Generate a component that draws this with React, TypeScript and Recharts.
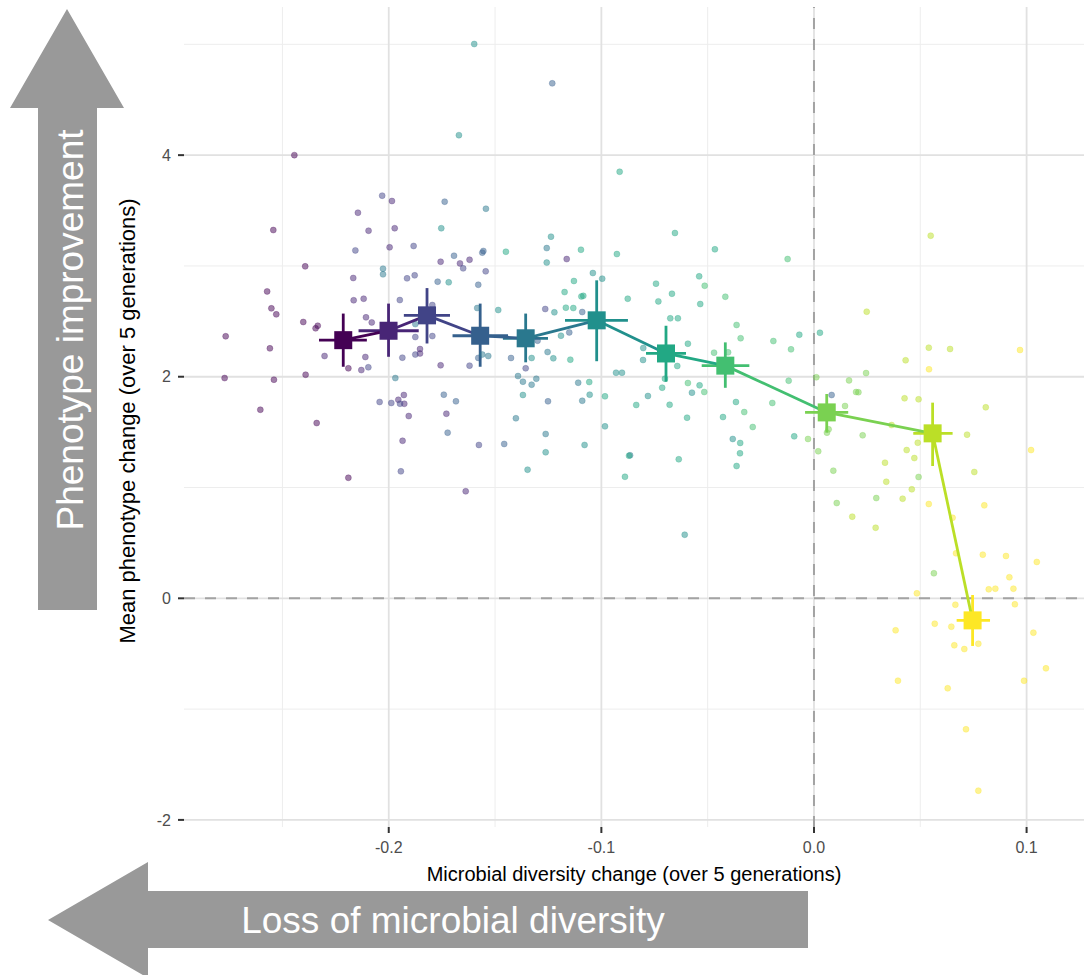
import { ScatterChart, Scatter, XAxis, YAxis, CartesianGrid, ReferenceLine, ErrorBar, Label } from "recharts";

const FONT = '"Liberation Sans", Arial, Helvetica, sans-serif';
const W = 1084;
const H = 975;

// viridis, one colour per diversity-change bin
const binColors = ["#440154", "#482576", "#414487", "#35608D", "#2A788E", "#21908C", "#22A884", "#43BF71", "#7AD151", "#BBDF27", "#FDE725"];

// bin means and their error ranges
const meanX = [-0.2214, -0.2001, -0.182, -0.157, -0.1356, -0.1022, -0.0696, -0.0417, 0.006, 0.0558, 0.0746];
const meanY = [2.33, 2.415, 2.554, 2.37, 2.347, 2.509, 2.21, 2.1, 1.678, 1.489, -0.199];
const xLow = [-0.2328, -0.2142, -0.1929, -0.17, -0.1463, -0.1171, -0.079, -0.0528, -0.0042, 0.0467, 0.0671];
const xHigh = [-0.2103, -0.1859, -0.1712, -0.1439, -0.1251, -0.0875, -0.0602, -0.0304, 0.0161, 0.0652, 0.0828];
const yLow = [2.09, 2.18, 2.3, 2.09, 2.13, 2.14, 1.955, 1.9, 1.495, 1.194, -0.43];
const yHigh = [2.57, 2.66, 2.8, 2.66, 2.57, 2.87, 2.46, 2.31, 1.844, 1.766, 0.03];

const xTicks = [-0.2, -0.1, 0, 0.1];
const yTicks = [-2, 0, 2, 4];
const xMinor = [-0.25, -0.15, -0.05, 0.05];
const yMinor = [-1, 1, 3, 5];

// individual lines, [diversity change, phenotype change]
const bin1: [number, number][] = [
  [-0.2444, 4.0], [-0.2543, 3.324], [-0.2393, 2.996], [-0.2572, 2.77], [-0.2552, 2.617], [-0.2529, 2.563],
  [-0.2402, 2.494], [-0.2334, 2.46], [-0.2344, 2.437], [-0.2767, 2.365], [-0.2559, 2.256], [-0.219, 2.076],
  [-0.2772, 1.988], [-0.254, 1.973], [-0.2391, 2.018], [-0.2604, 1.702], [-0.2339, 1.582], [-0.219, 1.088],
];
const bin2: [number, number][] = [
  [-0.1985, 3.586], [-0.2145, 3.48], [-0.2095, 3.318], [-0.1972, 3.34], [-0.1996, 3.168], [-0.1665, 3.023],
  [-0.162, 3.056], [-0.1163, 3.062], [-0.1756, 3.038], [-0.2167, 2.891], [-0.2165, 2.69], [-0.2118, 2.704],
  [-0.2107, 2.536], [-0.208, 2.49], [-0.2302, 2.187], [-0.2129, 2.06], [-0.211, 2.178], [-0.1853, 2.21],
  [-0.1853, 2.25], [-0.1756, 2.103], [-0.1955, 1.792], [-0.1927, 1.756], [-0.1929, 1.835], [-0.1906, 1.645],
  [-0.1935, 1.422], [-0.1729, 1.666], [-0.1638, 0.966],
];
const bin3: [number, number][] = [
  [-0.2031, 3.634], [-0.2157, 3.14], [-0.1883, 3.18], [-0.165, 2.978], [-0.1544, 2.951], [-0.1914, 2.888],
  [-0.1878, 2.915], [-0.1948, 2.692], [-0.1264, 2.611], [-0.1795, 2.647], [-0.2096, 2.085], [-0.1936, 2.172],
  [-0.1875, 2.2], [-0.1795, 2.367], [-0.1875, 2.358], [-0.162, 2.1], [-0.1356, 2.076], [-0.2043, 1.772],
  [-0.1988, 1.763], [-0.1947, 1.756], [-0.1943, 1.146], [-0.1576, 1.384],
];
const bin4: [number, number][] = [
  [-0.1231, 4.648], [-0.1737, 3.58], [-0.156, 3.12], [-0.1555, 3.135], [-0.1693, 3.092], [-0.177, 2.858],
  [-0.1579, 2.83], [-0.109, 2.584], [-0.1579, 2.17], [-0.1425, 2.169], [-0.13, 2.325], [-0.1251, 1.778],
  [-0.1151, 2.4], [-0.1741, 1.838], [-0.1684, 1.778], [-0.1723, 1.495], [-0.1457, 1.393], [0.0083, 1.835],
];
const bin5: [number, number][] = [
  [-0.1543, 3.516], [-0.1257, 3.161], [-0.2027, 2.975], [-0.2027, 2.924], [-0.1584, 2.62], [-0.1875, 2.475],
  [-0.156, 2.2], [-0.1532, 2.187], [-0.1253, 2.223], [-0.1392, 2.006], [-0.1369, 1.955], [-0.1328, 1.928],
  [-0.1306, 1.982], [-0.1109, 1.946], [-0.109, 1.783], [-0.1262, 1.483], [-0.1402, 1.625], [-0.1969, 1.988],
  [-0.0865, 1.291],
];
const bin6: [number, number][] = [
  [-0.1598, 5.003], [-0.167, 4.18], [-0.1753, 3.34], [-0.1237, 3.264], [-0.1257, 3.03], [-0.104, 2.936],
  [-0.0996, 2.885], [-0.1485, 2.602], [-0.1221, 2.581], [-0.1718, 2.852], [-0.1328, 2.169], [-0.1226, 2.166],
  [-0.1369, 1.835], [-0.119, 2.37], [-0.1055, 1.838], [-0.0931, 2.036], [-0.0903, 2.036], [-0.0983, 1.552],
  [-0.1079, 1.384], [-0.1262, 1.318], [-0.1347, 1.161], [-0.0803, 2.259], [-0.0804, 2.151], [-0.0781, 1.826],
  [-0.0574, 1.856], [-0.0608, 0.574], [-0.0382, 1.438],
];
const bin7: [number, number][] = [
  [-0.0914, 3.85], [-0.1449, 3.128], [-0.1096, 3.146], [-0.0927, 3.107], [-0.1129, 2.864], [-0.1173, 2.764],
  [-0.1094, 2.725], [-0.1085, 2.73], [-0.0876, 2.704], [-0.1167, 2.623], [-0.1132, 2.62], [-0.1146, 2.154],
  [-0.1057, 1.952], [-0.0983, 1.823], [-0.087, 1.287], [-0.0889, 1.097], [-0.0654, 3.297], [-0.0466, 3.15],
  [-0.0743, 2.84], [-0.054, 2.906], [-0.0668, 2.749], [-0.0732, 2.68], [-0.0535, 2.656], [-0.0676, 2.527],
  [-0.064, 2.527], [-0.0069, 2.379], [0.0028, 2.397], [-0.0593, 2.298], [-0.0643, 2.097], [-0.0701, 1.982],
  [-0.0714, 1.901], [-0.0836, 1.745], [-0.0679, 1.747], [-0.0538, 1.922], [-0.0597, 1.63], [-0.0367, 1.772],
  [-0.0428, 1.636], [-0.0093, 1.462], [-0.0347, 1.402], [-0.0348, 1.309], [-0.0364, 1.194], [-0.0636, 1.255],
];
const bin8: [number, number][] = [
  [-0.0124, 3.062], [-0.0514, 2.821], [-0.0417, 2.722], [-0.0364, 2.467], [-0.0345, 2.347], [-0.0191, 2.322],
  [-0.0108, 2.247], [-0.047, 2.217], [-0.0404, 2.22], [-0.0593, 1.943], [-0.0516, 1.862], [-0.0328, 1.681],
  [-0.0288, 1.546], [-0.0196, 1.763], [-0.0119, 1.964],
];
const bin9: [number, number][] = [
  [-0.0028, 1.438], [0.0011, 1.995], [0.0165, 1.967], [0.0245, 2.033], [0.0198, 1.862], [0.0209, 1.86],
  [0.0146, 1.736], [0.0069, 1.525], [0.0061, 1.495], [0.002, 1.327], [0.0229, 1.471], [0.0091, 1.152],
  [0.0107, 0.86], [0.0293, 0.905], [0.0492, 1.095], [0.0564, 0.226],
];
const bin10: [number, number][] = [
  [0.0549, 3.273], [0.0248, 2.587], [0.0365, 1.564], [0.018, 0.737], [0.029, 0.637], [0.0334, 1.224],
  [0.034, 1.052], [0.0417, 0.899], [0.046, 0.984], [0.0436, 1.338], [0.0472, 1.266], [0.0488, 1.404],
  [0.0426, 1.805], [0.0492, 1.796], [0.0431, 2.148], [0.054, 2.262], [0.064, 2.25], [0.0808, 1.724],
  [0.072, 1.477], [0.0754, 1.14],
];
const bin11: [number, number][] = [
  [0.0541, 2.067], [0.0969, 2.241], [0.1021, 1.338], [0.054, 0.851], [0.0801, 0.839], [0.0652, 0.727],
  [0.0668, 0.406], [0.0794, 0.394], [0.0903, 0.382], [0.1048, 0.328], [0.0919, 0.19], [0.0822, 0.081],
  [0.0853, 0.087], [0.0938, 0.087], [0.0484, 0.045], [0.0665, -0.058], [0.0945, -0.054], [0.0384, -0.289],
  [0.0568, -0.229], [0.0646, -0.256], [0.066, -0.424], [0.0707, -0.458], [0.0773, -0.41], [0.1032, -0.31],
  [0.1091, -0.632], [0.0395, -0.744], [0.0988, -0.744], [0.0629, -0.812], [0.0715, -1.182], [0.0773, -1.736],
];

const bins = [bin1, bin2, bin3, bin4, bin5, bin6, bin7, bin8, bin9, bin10, bin11];

function Dot(props: any) {
  const { cx, cy, fill } = props;
  return <circle cx={cx} cy={cy} r={3} fill={fill} fillOpacity={0.5} stroke={fill} strokeOpacity={0.35} strokeWidth={0.8} />;
}

function MeanSquare(props: any) {
  const { cx, cy, fill } = props;
  return <rect x={cx - 9} y={cy - 9} width={18} height={18} fill={fill} />;
}

function NoMark() {
  return <g />;
}

function XTitle(props: any) {
  const vb = props.viewBox || { x: 184, y: 827, width: 900 };
  return (
    <text x={vb.x + vb.width / 2} y={881} textAnchor="middle" fill="#000" fontSize={20} fontFamily={FONT}>
      Microbial diversity change (over 5 generations)
    </text>
  );
}

function YTitle(props: any) {
  const vb = props.viewBox || { y: 7, height: 820 };
  const cy = vb.y + vb.height / 2 + 4;
  return (
    <text x={135} y={cy} transform={`rotate(-90 135 ${cy})`} textAnchor="middle" fill="#000" fontSize={22} fontFamily={FONT}>
      Mean phenotype change (over 5 generations)
    </text>
  );
}

export default function App() {
  const tickStyle = { fill: "#4D4D4D", fontSize: 16, fontFamily: FONT };

  return (
    <div style={{ position: "absolute", left: 0, top: 0, width: W, height: H, background: "#fff" }}>
      <ScatterChart width={W} height={H} margin={{ top: 7, right: 0, bottom: 0, left: 0 }}>
        <CartesianGrid verticalValues={xMinor} horizontalValues={yMinor} stroke="#EDEDED" strokeWidth={1} />
        <CartesianGrid verticalValues={xTicks} horizontalValues={yTicks} stroke="#E1E1E1" strokeWidth={1.8} />
        <XAxis
          type="number"
          dataKey="x"
          domain={[-0.2963, 0.127]}
          ticks={xTicks}
          allowDataOverflow
          height={148}
          axisLine={false}
          tickSize={6}
          tickMargin={9}
          tickLine={{ stroke: "#333", strokeWidth: 2 }}
          tick={tickStyle}
          tickFormatter={(v: number) => v.toFixed(1)}
        >
          <Label content={XTitle} />
        </XAxis>
        <YAxis
          type="number"
          dataKey="y"
          domain={[-2.064, 5.337]}
          ticks={yTicks}
          allowDataOverflow
          width={184}
          axisLine={false}
          tickSize={6}
          tickMargin={7}
          tickLine={{ stroke: "#333", strokeWidth: 2 }}
          tick={tickStyle}
        >
          <Label content={YTitle} />
        </YAxis>
        <ReferenceLine x={0} stroke="#A3A3A3" strokeWidth={2} strokeDasharray="11 10" />
        <ReferenceLine y={0} stroke="#A3A3A3" strokeWidth={2} strokeDasharray="11 10" />

        {bins.map((pts, i) => (
          <Scatter
            key={`b${i}`}
            data={pts.map(([x, y]) => ({ x, y }))}
            fill={binColors[i]}
            shape={Dot}
            isAnimationActive={false}
          />
        ))}

        {meanX.slice(0, -1).map((x, i) => (
          <Scatter
            key={`s${i}`}
            data={[{ x, y: meanY[i] }, { x: meanX[i + 1], y: meanY[i + 1] }]}
            fill={binColors[i]}
            line={{ stroke: binColors[i], strokeWidth: 2.8 }}
            shape={NoMark}
            isAnimationActive={false}
          />
        ))}

        {meanX.map((x, i) => (
          <Scatter
            key={`m${i}`}
            data={[{
              x,
              y: meanY[i],
              ex: [x - xLow[i], xHigh[i] - x],
              ey: [meanY[i] - yLow[i], yHigh[i] - meanY[i]],
            }]}
            fill={binColors[i]}
            shape={MeanSquare}
            isAnimationActive={false}
          >
            <ErrorBar dataKey="ex" direction="x" width={0} stroke={binColors[i]} strokeWidth={2.8} isAnimationActive={false} />
            <ErrorBar dataKey="ey" direction="y" width={0} stroke={binColors[i]} strokeWidth={2.8} isAnimationActive={false} />
          </Scatter>
        ))}
      </ScatterChart>

      <svg width={W} height={H} style={{ position: "absolute", left: 0, top: 0, pointerEvents: "none" }}>
        <polygon points="38,108 38,610 97,610 97,108 124,108 67,9 10,108" fill="#999" />
        <text x={83} y={330} transform="rotate(-90 83 330)" textAnchor="middle" fill="#fff" fontSize={37} fontFamily={FONT}>
          Phenotype improvement
        </text>
        <polygon points="808,891 808,948 148,948 148,978 48,920 148,862 148,891" fill="#999" />
        <text x={453} y={933} textAnchor="middle" fill="#fff" fontSize={37} fontFamily={FONT}>
          Loss of microbial diversity
        </text>
      </svg>
    </div>
  );
}
